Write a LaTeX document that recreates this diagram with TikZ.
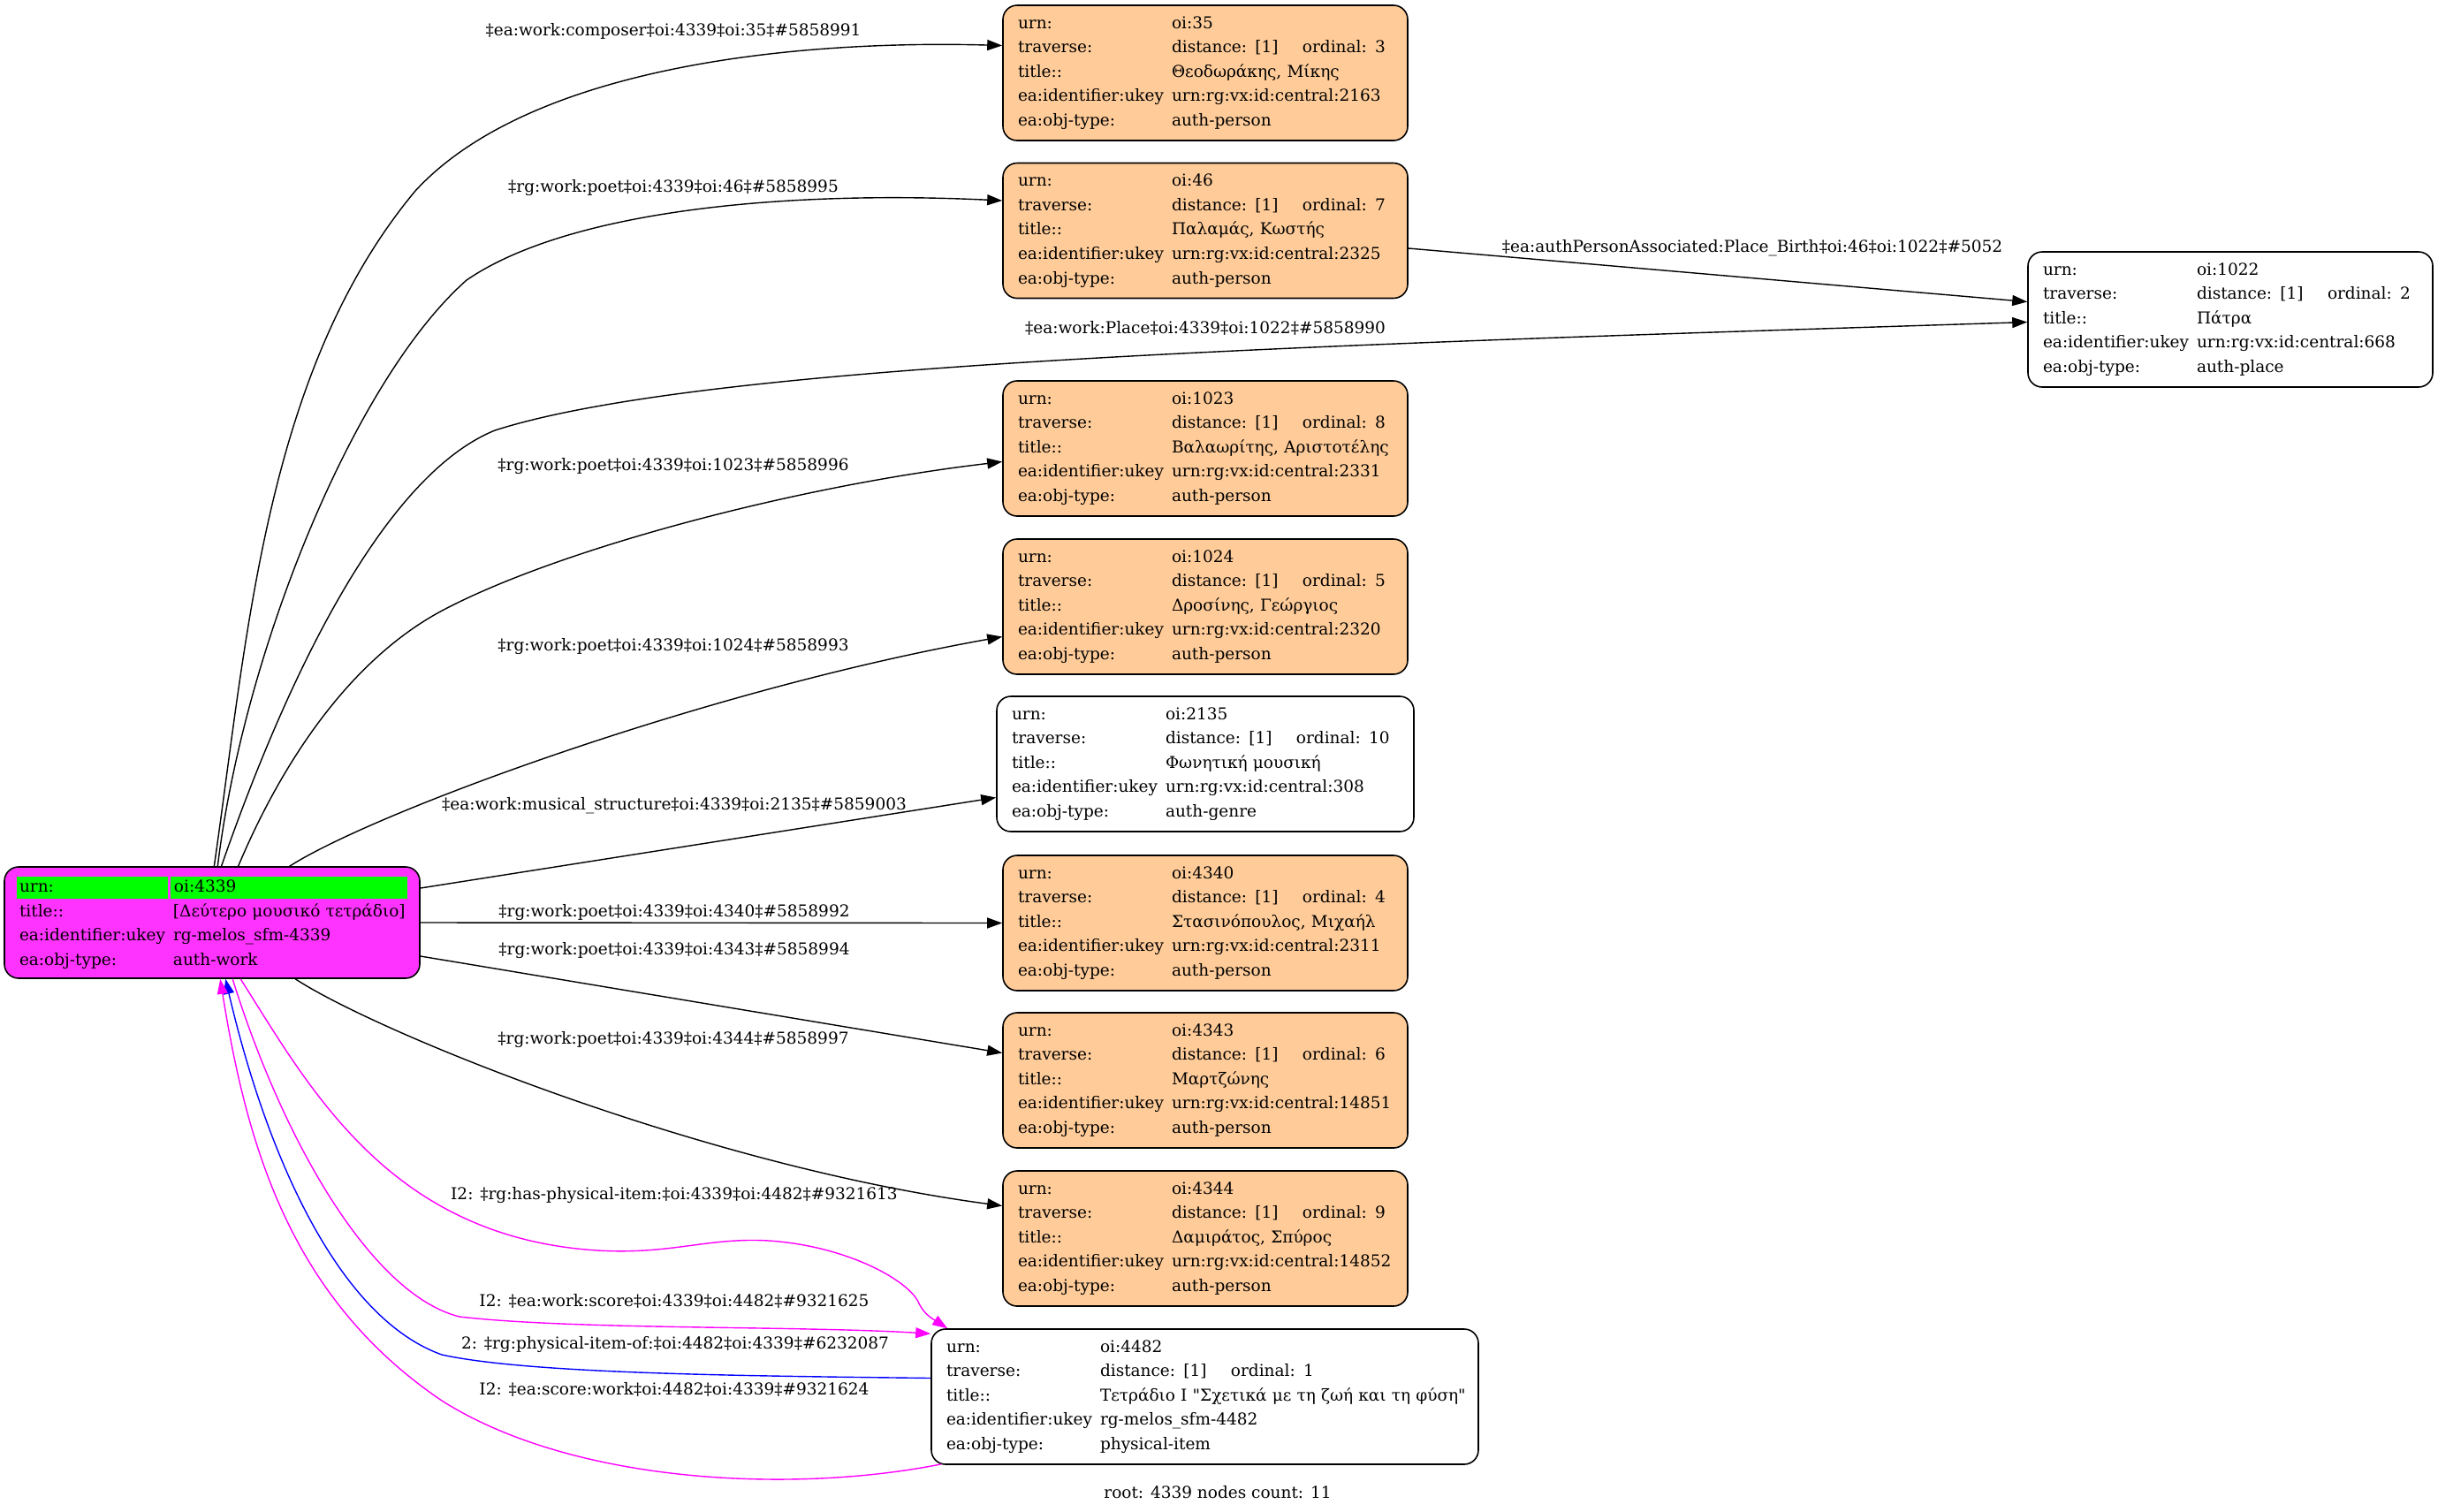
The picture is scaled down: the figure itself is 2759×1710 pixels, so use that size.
\documentclass[tikz,border=0pt]{standalone}
\usepackage{fontspec}
\setmainfont{DejaVu Serif}[Ligatures=TeXOff]
\usepackage{xcolor}
\usepackage{tikz}
\usetikzlibrary{arrows.meta, calc, positioning}

\definecolor{personfill}{HTML}{FFCC99}
\definecolor{rootfill}{HTML}{FF33FF}
\definecolor{urngreen}{HTML}{00FF00}
\definecolor{itemlink}{HTML}{FF00FF}
\definecolor{backlink}{HTML}{0000FF}

\newcommand\recfont{\fontsize{9.25}{13.8}\selectfont}
\newcommand\kv[2]{\mbox{\makebox[87pt][l]{#1}#2}}
\newcommand\trav[1]{\kv{traverse:}{\makebox[74pt][l]{distance: [1]}ordinal: #1}}

\begin{document}
\begin{tikzpicture}[x=0.5pt, y=-0.5pt,
  rec/.style={draw, line width=0.8pt, rounded corners=8pt, inner xsep=8.5pt,
    inner ysep=0pt, minimum height=76.5pt, align=left, font=\recfont},
  person/.style={rec, fill=personfill, text width=212pt},
  plain/.style={rec, text width=212pt},
  link/.style={line width=0.7pt, -{Triangle[length=8.5pt,width=6pt]}},
  lbl/.style={font=\recfont, inner sep=0pt}]
  \useasboundingbox (0,0) rectangle (2759,1710);

  % Root record
  \node[rec, fill=rootfill, text width=218pt, minimum height=63pt] (root) at (240,1044)
    {\rlap{\hspace*{-1.5pt}\setlength\fboxsep{0pt}%
      \colorbox{urngreen}{\rule[-3.5pt]{0pt}{12.5pt}\makebox[85.5pt][l]{\hspace{1.5pt}urn:}}%
      \hspace{1.5pt}\colorbox{urngreen}{\rule[-3.5pt]{0pt}{12.5pt}\makebox[134pt][l]{\hspace{2pt}oi:4339}}}\\
     \kv{title::}{[Δεύτερο μουσικό τετράδιο]}\\
     \kv{ea:identifier:ukey}{rg-melos\_sfm-4339}\\
     \kv{ea:obj-type:}{auth-work}};

  % Linked records
  \node[person] (n35) at (1364,82.5)
    {\kv{urn:}{oi:35}\\ \trav{3}\\ \kv{title::}{Θεοδωράκης, Μίκης}\\
     \kv{ea:identifier:ukey}{urn:rg:vx:id:central:2163}\\ \kv{ea:obj-type:}{auth-person}};
  \node[person] (n46) at (1364,261)
    {\kv{urn:}{oi:46}\\ \trav{7}\\ \kv{title::}{Παλαμάς, Κωστής}\\
     \kv{ea:identifier:ukey}{urn:rg:vx:id:central:2325}\\ \kv{ea:obj-type:}{auth-person}};
  \node[plain] (n1022) at (2524,361.5)
    {\kv{urn:}{oi:1022}\\ \trav{2}\\ \kv{title::}{Πάτρα}\\
     \kv{ea:identifier:ukey}{urn:rg:vx:id:central:668}\\ \kv{ea:obj-type:}{auth-place}};
  \node[person] (n1023) at (1364,507.5)
    {\kv{urn:}{oi:1023}\\ \trav{8}\\ \kv{title::}{Βαλαωρίτης, Αριστοτέλης}\\
     \kv{ea:identifier:ukey}{urn:rg:vx:id:central:2331}\\ \kv{ea:obj-type:}{auth-person}};
  \node[person] (n1024) at (1364,686.5)
    {\kv{urn:}{oi:1024}\\ \trav{5}\\ \kv{title::}{Δροσίνης, Γεώργιος}\\
     \kv{ea:identifier:ukey}{urn:rg:vx:id:central:2320}\\ \kv{ea:obj-type:}{auth-person}};
  \node[plain, text width=219pt] (n2135) at (1364,864.5)
    {\kv{urn:}{oi:2135}\\ \trav{10}\\ \kv{title::}{Φωνητική μουσική}\\
     \kv{ea:identifier:ukey}{urn:rg:vx:id:central:308}\\ \kv{ea:obj-type:}{auth-genre}};
  \node[person] (n4340) at (1364,1044.5)
    {\kv{urn:}{oi:4340}\\ \trav{4}\\ \kv{title::}{Στασινόπουλος, Μιχαήλ}\\
     \kv{ea:identifier:ukey}{urn:rg:vx:id:central:2311}\\ \kv{ea:obj-type:}{auth-person}};
  \node[person] (n4343) at (1364,1222.5)
    {\kv{urn:}{oi:4343}\\ \trav{6}\\ \kv{title::}{Μαρτζώνης}\\
     \kv{ea:identifier:ukey}{urn:rg:vx:id:central:14851}\\ \kv{ea:obj-type:}{auth-person}};
  \node[person] (n4344) at (1364,1401.5)
    {\kv{urn:}{oi:4344}\\ \trav{9}\\ \kv{title::}{Δαμιράτος, Σπύρος}\\
     \kv{ea:identifier:ukey}{urn:rg:vx:id:central:14852}\\ \kv{ea:obj-type:}{auth-person}};
  \node[plain, text width=292.5pt] (n4482) at (1363.5,1580.5)
    {\kv{urn:}{oi:4482}\\ \trav{1}\\ \kv{title::}{Τετράδιο Ι "Σχετικά με τη ζωή και τη φύση"}\\
     \kv{ea:identifier:ukey}{rg-melos\_sfm-4482}\\ \kv{ea:obj-type:}{physical-item}};

  % Edges leaving the top of the root
  \draw[link] ($(root.north west)+(238,1)$) .. controls (280,720) and (300,420) .. (470,216)
    .. controls (600,75) and (900,45) .. ($(n35.west)+(0,-31)$);
  \draw[link] ($(root.north west)+(242,1)$) .. controls (275,740) and (400,430) .. (528,317)
    .. controls (640,240) and (880,215) .. ($(n46.west)+(0,-34)$);
  \draw[link] ($(root.north west)+(246,1)$) .. controls (320,780) and (430,540) .. (560,487)
    .. controls (800,410) and (1500,390) .. ($(n1022.west)+(0,3)$);
  \draw[link] ($(n46.east)+(0,20)$) -- ($(n1022.west)+(0,-20)$);
  \draw[link] ($(root.north west)+(265,1)$) .. controls (320,860) and (400,740) .. (510,686)
    .. controls (640,620) and (900,550) .. ($(n1023.west)+(0,15)$);
  \draw[link] ($(root.north west)+(322,1)$) .. controls (420,920) and (800,780) .. ($(n1024.west)+(0,34)$);

  % Edges leaving the right side
  \draw[link] ($(root.east)+(0,-39)$) -- ($(n2135.west)+(0,38)$);
  \draw[link] (root.east) -- (n4340.west);
  \draw[link] ($(root.east)+(0,38)$) -- ($(n4343.west)+(0,-31)$);
  \draw[link] ($(root.south west)+(330,0)$) .. controls (430,1170) and (800,1320) .. ($(n4344.west)+(0,-37)$);

  % Physical item links
  \draw[link, itemlink] ($(root.south west)+(268,0)$) .. controls (350,1230) and (440,1400) .. (676,1415)
    .. controls (760,1420) and (800,1400) .. (870,1404)
    .. controls (960,1410) and (1030,1450) .. (1040,1475)
    .. controls (1046,1488) and (1058,1494) .. ($(n4482.north west)+(19,0)$);
  \draw[link, itemlink] ($(root.south west)+(259,0)$) .. controls (320,1290) and (420,1465) .. (520,1490)
    .. controls (650,1505) and (900,1500) .. ($(n4482.north west)+(0,6)$);
  \draw[link, backlink] ($(n4482.west)+(0,-21)$) .. controls (850,1557) and (600,1555) .. (500,1533)
    .. controls (380,1490) and (300,1300) .. ($(root.south west)+(251,0)$);
  \draw[link, itemlink] ($(n4482.south west)+(12,-1)$) .. controls (900,1690) and (650,1680) .. (500,1585)
    .. controls (330,1470) and (280,1300) .. ($(root.south west)+(245,0)$);

  % Edge labels
  \node[lbl] (l35) at (762,35) {‡ea:work:composer‡oi:4339‡oi:35‡\#5858991};
  \node[lbl] (l46) at (762,213) {‡rg:work:poet‡oi:4339‡oi:46‡\#5858995};
  \node[lbl] (l1022) at (1364,371) {‡ea:work:Place‡oi:4339‡oi:1022‡\#5858990};
  \node[lbl] (lbirth) at (1983,281) {‡ea:authPersonAssociated:Place\_Birth‡oi:46‡oi:1022‡\#5052};
  \node[lbl] (l1023) at (762,528) {‡rg:work:poet‡oi:4339‡oi:1023‡\#5858996};
  \node[lbl] (l1024) at (762,732) {‡rg:work:poet‡oi:4339‡oi:1024‡\#5858993};
  \node[lbl] (l2135) at (763,912) {‡ea:work:musical\_structure‡oi:4339‡oi:2135‡\#5859003};
  \node[lbl] (l4340) at (763,1033) {‡rg:work:poet‡oi:4339‡oi:4340‡\#5858992};
  \node[lbl] (l4343) at (763,1076) {‡rg:work:poet‡oi:4339‡oi:4343‡\#5858994};
  \node[lbl] (l4344) at (762,1177) {‡rg:work:poet‡oi:4339‡oi:4344‡\#5858997};
  \node[lbl] (lhas) at (763,1353) {I2: ‡rg:has-physical-item:‡oi:4339‡oi:4482‡\#9321613};
  \node[lbl] (lscore) at (763,1472) {I2: ‡ea:work:score‡oi:4339‡oi:4482‡\#9321625};
  \node[lbl] (lof) at (764,1522) {2: ‡rg:physical-item-of:‡oi:4482‡oi:4339‡\#6232087};
  \node[lbl] (lwork) at (763,1572) {I2: ‡ea:score:work‡oi:4482‡oi:4339‡\#9321624};

  % Footer
  \node[lbl] (foot) at (1378,1689) {root: 4339 nodes count: 11};
\end{tikzpicture}
\end{document}
